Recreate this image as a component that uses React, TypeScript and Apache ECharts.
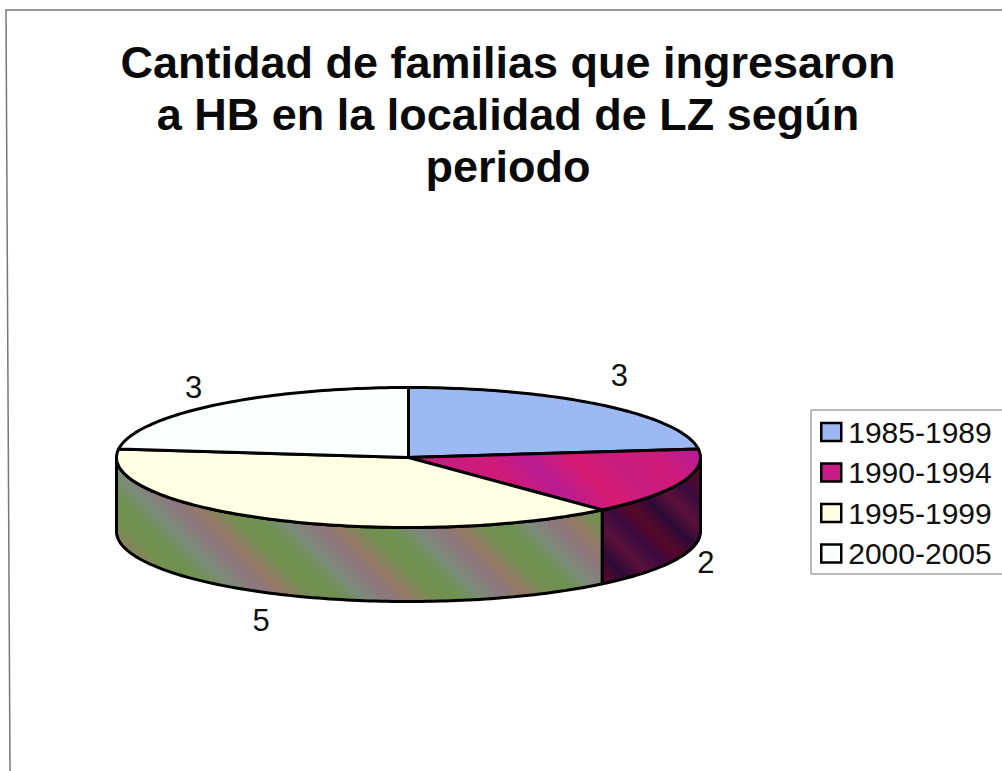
import React, { useEffect, useRef } from "react";
import * as echarts from "echarts";

const titleLines = [
  "Cantidad de familias que ingresaron",
  "a HB en la localidad de LZ según",
  "periodo",
];
const periods = ["1985-1989", "1990-1994", "1995-1999", "2000-2005"];
const families = [3, 2, 5, 3];
const topColors = ["#9DB9F3", "#C71C86", "#FFFFE3", "#FBFFFE"];

const CX = 408.5;
const CY = 457.5;
const RX = 292;
const RY = 70;
const DEPTH = 74;
const FONT = '"Liberation Sans", Arial, sans-serif';
const total = families.reduce((a, b) => a + b, 0);

function stripes(colors: string[], x0: number, y0: number, length: number, period: number) {
  // Diagonal repeating bands, running from upper left to lower right.
  const n = Math.ceil(length / period);
  const m = n * colors.length;
  const stops: { offset: number; color: string }[] = [];
  for (let i = 0; i <= m; i++) {
    stops.push({ offset: i / m, color: colors[i % colors.length] });
  }
  const d = (n * period) / Math.SQRT2;
  return new echarts.graphic.LinearGradient(x0, y0, x0 + d, y0 - d, stops, true);
}

const wallFill = [
  null,
  () => stripes(["#3C0A40", "#560828", "#2E0A38", "#5A1038"], 600, 600, 150, 70),
  () => stripes(["#6F9150", "#7B8C78", "#8C7880", "#947A66", "#739050"], 110, 610, 520, 85),
  null,
];
const topFill = [
  null,
  () => stripes(["#B81C92", "#D81B72", "#C81C80", "#D01A78"], 420, 520, 300, 120),
  null,
  null,
];
const labelNudge = [
  [-2, -7],
  [-3, -4],
  [2, 0],
  [-2, 5],
];

const pt = (t: number, dy = 0): number[] => [
  CX + RX * Math.sin(t),
  CY - RY * Math.cos(t) + dy,
];

function arcPoints(t0: number, t1: number, dy = 0) {
  const steps = Math.max(2, Math.ceil((t1 - t0) / 0.02));
  const out: number[][] = [];
  for (let i = 0; i <= steps; i++) out.push(pt(t0 + ((t1 - t0) * i) / steps, dy));
  return out;
}

function renderSlice(index: number) {
  return (_params: any, api: any) => {
    const before = families.slice(0, index).reduce((a, b) => a + b, 0);
    const t0 = (before / total) * 2 * Math.PI;
    const t1 = t0 + (api.value(0) / total) * 2 * Math.PI;
    const children: any[] = [];

    const w0 = Math.max(t0, Math.PI / 2);
    const w1 = Math.min(t1, (3 * Math.PI) / 2);
    if (w1 > w0) {
      children.push({
        type: "polygon",
        shape: {
          points: [...arcPoints(w0, w1), ...arcPoints(w0, w1, DEPTH).reverse()],
        },
        style: {
          fill: wallFill[index] ? (wallFill[index] as any)() : topColors[index],
          stroke: "#000",
          lineWidth: 3,
          lineJoin: "round",
        },
      });
    }
    children.push({
      type: "polygon",
      shape: { points: [[CX, CY], ...arcPoints(t0, t1)] },
      style: {
        fill: topFill[index] ? (topFill[index] as any)() : topColors[index],
        stroke: "#000",
        lineWidth: 3,
        lineJoin: "round",
      },
    });

    const mid = (t0 + t1) / 2;
    const lower = Math.cos(mid) < 0;
    children.push({
      type: "text",
      style: {
        x: CX + 1.1 * RX * Math.sin(mid) + labelNudge[index][0],
        y: CY - (RY + 30) * Math.cos(mid) + (lower ? DEPTH : 0) + labelNudge[index][1],
        text: String(api.value(0)),
        fill: "#111",
        font: `31px ${FONT}`,
        align: "center",
        verticalAlign: "middle",
      },
    });
    return { type: "group", children };
  };
}

export default function App() {
  const ref = useRef<HTMLDivElement>(null);
  useEffect(() => {
    const chart = echarts.init(ref.current!, null, { renderer: "svg" });
    chart.setOption({
      animation: false,
      backgroundColor: "#FFFFFF",
      title: {
        text: titleLines.join("\n"),
        left: 503,
        top: 31,
        textAlign: "center",
        textStyle: {
          fontFamily: FONT,
          fontWeight: "bold",
          fontSize: 45,
          lineHeight: 52,
          color: "#0A0A0A",
        },
      },
      legend: {
        orient: "vertical",
        left: 811,
        top: 410,
        padding: [7, 12, 5.5, 9],
        backgroundColor: "#FFFFFF",
        borderColor: "#777",
        borderWidth: 1,
        borderRadius: 0,
        itemWidth: 20,
        itemHeight: 18,
        itemGap: 10.5,
        icon: "rect",
        itemStyle: { borderColor: "#000", borderWidth: 2.5 },
        textStyle: {
          fontFamily: FONT,
          fontSize: 30,
          lineHeight: 29,
          color: "#111",
          padding: [0, 0, 0, 2],
        },
        data: periods,
      },
      graphic: [
        {
          type: "polyline",
          silent: true,
          shape: { points: [[1002, 10], [6, 10], [10, 771]] },
          style: { stroke: "#777", lineWidth: 1.5, fill: "none" },
        },
      ],
      series: periods.map((name, i) => ({
        type: "custom",
        name,
        coordinateSystem: "none",
        itemStyle: { color: topColors[i] },
        data: [families[i]],
        renderItem: renderSlice(i),
      })),
    });
    return () => chart.dispose();
  }, []);
  return (
    <div
      ref={ref}
      style={{ position: "fixed", left: 0, top: 0, width: 1002, height: 771 }}
    />
  );
}
